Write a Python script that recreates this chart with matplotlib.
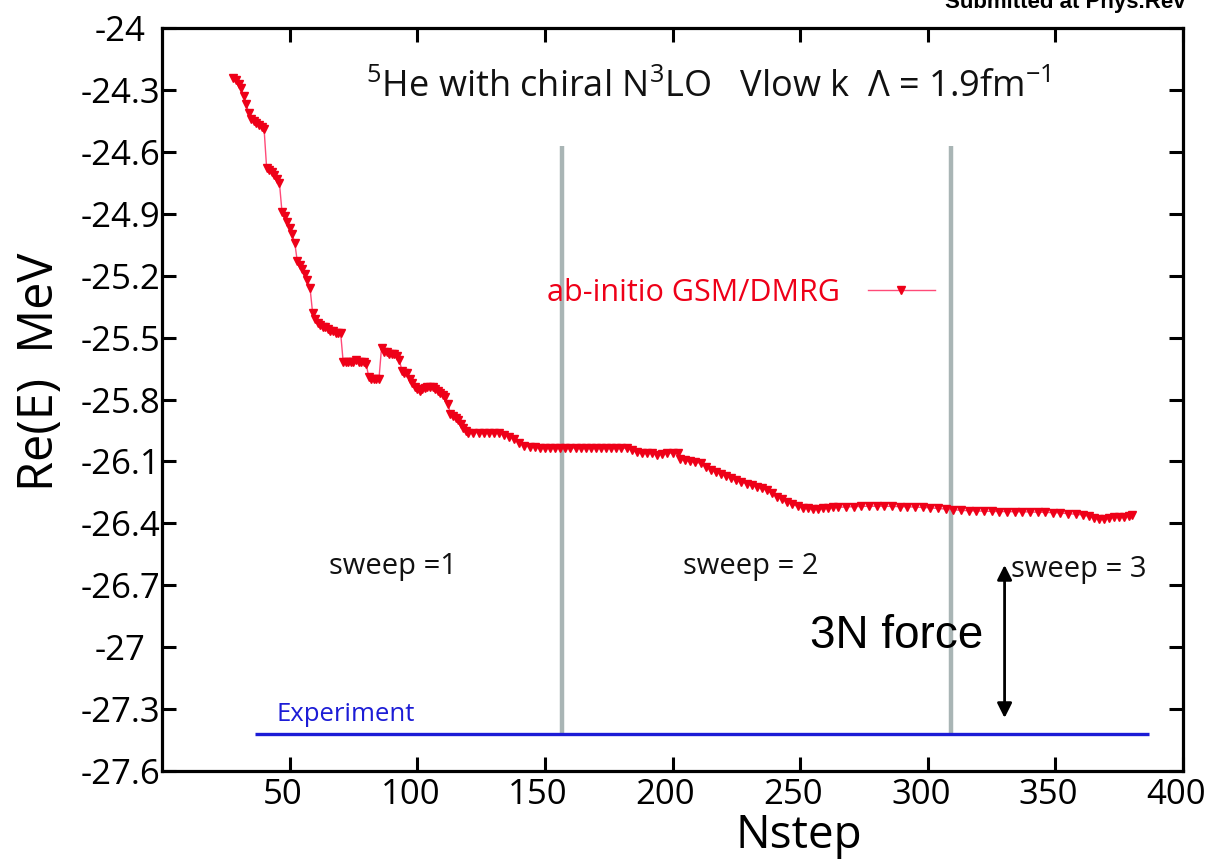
import matplotlib
matplotlib.use("Agg")
import matplotlib.pyplot as plt
from matplotlib.transforms import ScaledTranslation

# ---------------- data ----------------
nstep = [28, 29, 30, 31, 32, 33, 34, 35, 36, 37, 38, 39, 40,
         41, 42, 43, 44, 45, 46,
         47, 48, 49, 50, 51, 52,
         53, 54, 55, 56, 57, 58,
         59, 60, 61, 62, 63, 64, 65, 66, 67, 68, 69, 70,
         71, 72, 73, 74, 75, 76, 77, 78, 79, 80,
         81, 82, 83, 84, 85,
         86, 87, 88, 89, 90, 91, 92, 93,
         94, 95, 96, 97, 98, 99, 100, 101, 102, 103, 104, 105, 106, 107, 108, 109, 110, 111, 112,
         113, 114, 115, 116, 117, 118, 119, 120,
         122, 124, 126, 128, 130, 132, 134, 136, 138, 140, 142, 144, 146, 148, 150, 152, 154, 156,
         158, 160, 162, 164, 166, 168, 170, 172, 174, 176, 178, 180, 182, 184, 186, 188, 190, 192,
         194, 196, 198, 200, 202,
         203, 205, 207, 209, 211, 213, 215, 217, 219, 221, 223, 225, 227, 229, 231, 233, 235, 237,
         239, 241, 243, 245, 247, 249, 251, 253, 255, 257, 259, 261, 263, 265,
         268, 271, 274, 277, 280, 283, 286, 289, 292, 295, 298, 301, 304, 307, 310, 313, 316, 319,
         322, 325, 328, 331, 334, 337, 340, 343, 346, 349, 352, 355, 358,
         361, 363, 365, 367, 369, 371, 373, 375, 377, 379, 380]

energy = [-24.24, -24.25, -24.27, -24.29, -24.33, -24.37, -24.41, -24.44, -24.45, -24.46, -24.47, -24.48, -24.49,
          -24.68, -24.69, -24.70, -24.71, -24.73, -24.75,
          -24.89, -24.91, -24.94, -24.97, -25.00, -25.04,
          -25.13, -25.15, -25.17, -25.19, -25.22, -25.26,
          -25.38, -25.41, -25.43, -25.44, -25.45, -25.45, -25.46, -25.47, -25.47, -25.48, -25.48, -25.48,
          -25.62, -25.62, -25.62, -25.62, -25.62, -25.61, -25.62, -25.62, -25.62, -25.63,
          -25.69, -25.70, -25.70, -25.70, -25.70,
          -25.55, -25.57, -25.57, -25.58, -25.58, -25.58, -25.59, -25.61,
          -25.66, -25.67, -25.67, -25.70, -25.72, -25.74, -25.75, -25.76, -25.75, -25.745, -25.74, -25.74,
          -25.74, -25.75, -25.76, -25.77, -25.78, -25.79, -25.82,
          -25.87, -25.88, -25.89, -25.90, -25.92, -25.94, -25.955, -25.96,
          -25.96, -25.96, -25.96, -25.96, -25.962, -25.962, -25.97, -25.98, -25.99, -26.01, -26.025, -26.03,
          -26.032, -26.033, -26.033, -26.034, -26.035, -26.035, -26.035, -26.035, -26.035, -26.035, -26.035,
          -26.035, -26.035, -26.035, -26.036, -26.036, -26.036, -26.036, -26.037, -26.045, -26.055, -26.06,
          -26.058, -26.06, -26.068, -26.064, -26.06, -26.06, -26.058,
          -26.088, -26.095, -26.10, -26.102, -26.11, -26.125, -26.14, -26.15, -26.16, -26.17, -26.18, -26.19,
          -26.20, -26.207, -26.215, -26.222, -26.23, -26.24, -26.255, -26.27, -26.28, -26.295, -26.308,
          -26.318, -26.324, -26.328, -26.33, -26.33, -26.328, -26.325, -26.323, -26.322,
          -26.32, -26.319, -26.318, -26.317, -26.317, -26.317, -26.318, -26.319, -26.32, -26.321, -26.323,
          -26.325, -26.328, -26.331, -26.334, -26.337, -26.339, -26.34, -26.341, -26.342, -26.343, -26.343,
          -26.344, -26.344, -26.345, -26.346, -26.347, -26.348, -26.35, -26.353, -26.356,
          -26.36, -26.366, -26.373, -26.378, -26.377, -26.372, -26.37, -26.369, -26.367, -26.365, -26.36]

sweep_bounds = [156.6, 309.3]
sweep_span = [-27.42, -24.57]
sweep_labels = ["sweep =1", "sweep = 2", "sweep = 3"]
sweep_label_x = [90.4, 230.6, 359.0]
sweep_label_y = [-26.611, -26.611, -26.626]

experiment_energy = -27.42
experiment_range = [36.4, 386.8]

force_arrow_x = 330.1
force_arrow_span = [-27.343, -26.602]

xticks = [50, 100, 150, 200, 250, 300, 350, 400]
yticks = [-24, -24.3, -24.6, -24.9, -25.2, -25.5, -25.8, -26.1, -26.4, -26.7, -27, -27.3, -27.6]
ytick_labels = ["-24", "-24.3", "-24.6", "-24.9", "-25.2", "-25.5", "-25.8",
                "-26.1", "-26.4", "-26.7", "-27", "-27.3", "-27.6"]

# ---------------- styling ----------------
FONT = ["Open Sans", "DejaVu Sans"]
plt.rcParams["font.family"] = FONT
plt.rcParams["mathtext.fontset"] = "custom"
plt.rcParams["mathtext.rm"] = "Open Sans"
plt.rcParams["mathtext.it"] = "Open Sans:italic"
plt.rcParams["mathtext.bf"] = "Open Sans:bold"

W, H = 1209, 859
fig = plt.figure(figsize=(W / 100, H / 100), dpi=100)
ax = fig.add_axes([162 / W, 1 - 771 / H, (1183 - 162) / W, (771 - 28) / H])

red = "#ee0018"
pink = "#ff4a78"
blue = "#1c1cd6"
grey = "#a9b5b5"

# sweep boundaries
ax.vlines(sweep_bounds, sweep_span[0], sweep_span[1], colors=grey, linewidth=3.2, zorder=1)

# experiment line
ax.hlines(experiment_energy, experiment_range[0], experiment_range[1], colors=blue, linewidth=2.4, zorder=2)
ax.text(72.0, -27.324, "Experiment", color=blue, fontsize=18.5, ha="center", va="center")

# GSM/DMRG curve
line, = ax.plot(nstep, energy, color=pink, linewidth=1.0, marker="v", markersize=6.0,
                markerfacecolor=red, markeredgecolor=red, markeredgewidth=1.0,
                label="ab-initio GSM/DMRG", zorder=3)

leg = ax.legend(handles=[line], loc="center left", bbox_to_anchor=(547 / W, 1 - 293 / H),
                bbox_transform=fig.transFigure, frameon=False, markerfirst=False,
                fontsize=22, handlelength=2.2, handletextpad=0.9, borderpad=0, borderaxespad=0,
                markerscale=0.85)
for t in leg.get_texts():
    t.set_color(red)

# title text inside axes
ax.text(214, -24.29,
        r"$\mathregular{^{5}}$He with chiral N$\mathregular{^{3}}$LO   Vlow k  Λ = 1.9fm$\mathregular{^{-1}}$",
        fontsize=26, ha="center", va="center", color="#111111")

# sweep labels
for sx, sy, st in zip(sweep_label_x, sweep_label_y, sweep_labels):
    ax.text(sx, sy, st, fontsize=21, ha="center", va="center", color="#111111")

# 3N force arrow and text
ax.annotate("", xy=(force_arrow_x, force_arrow_span[0]), xytext=(force_arrow_x, force_arrow_span[1]),
            arrowprops=dict(arrowstyle="<|-|>", color="black", lw=2.0, mutation_scale=22,
                            shrinkA=0, shrinkB=0))
ax.text(287.8, -26.946, "3N force", fontsize=33, ha="center", va="center",
        family=["Liberation Sans", "DejaVu Sans"], color="black")

# axes
ax.set_xlim(0, 400)
ax.set_ylim(-27.6, -24)
ax.set_xticks(xticks)
ax.set_xticklabels([str(v) for v in xticks])
ax.set_yticks(yticks)
ax.set_yticklabels(ytick_labels)
ax.tick_params(direction="in", length=10, width=2.2, top=True, right=True, labelsize=25,
               colors="black")
ax.tick_params(axis="x", pad=5)
ax.tick_params(axis="y", pad=30)
shift = ScaledTranslation(-0.07, 0, fig.dpi_scale_trans)
for lab in ax.get_xticklabels():
    lab.set_transform(lab.get_transform() + shift)
for lab in ax.get_yticklabels():
    lab.set_horizontalalignment("center")
for sp in ax.spines.values():
    sp.set_linewidth(2.3)

ax.set_xlabel("Nstep", fontsize=33, va="baseline")
ax.xaxis.set_label_coords((799 - 162) / (1183 - 162), (771 - 848) / (771 - 28))
ax.set_ylabel("Re(E)  MeV", fontsize=35, va="center")
ax.yaxis.set_label_coords((40 - 162) / (1183 - 162), (771 - 372) / (771 - 28))

# clipped header text at the very top (as in the source image)
fig.text(945 / W, 1 - 8 / H, "Submitted at Phys.Rev", fontsize=16, fontweight="bold",
         family=["Liberation Sans", "DejaVu Sans"], ha="left", va="baseline")

fig.savefig("out.png", dpi=100)
